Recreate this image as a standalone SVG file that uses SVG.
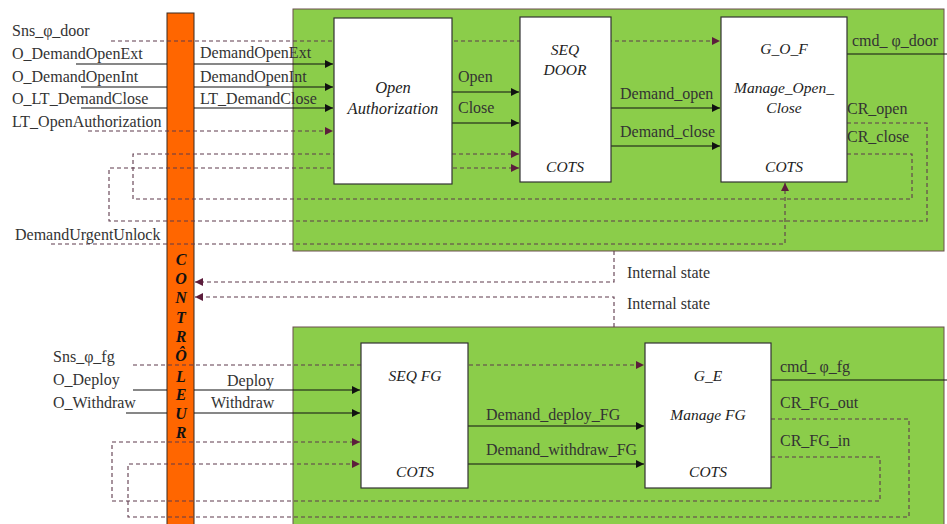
<svg xmlns="http://www.w3.org/2000/svg" width="947" height="524" viewBox="0 0 947 524">
  <defs>
    <marker id="arr" viewBox="0 0 10 10" refX="10" refY="5" markerWidth="8" markerHeight="8" markerUnits="userSpaceOnUse" orient="auto">
      <path d="M0,0 L10,5 L0,10 z" fill="#111"/>
    </marker>
    <marker id="arrd" viewBox="0 0 10 10" refX="10" refY="5" markerWidth="8" markerHeight="8" markerUnits="userSpaceOnUse" orient="auto">
      <path d="M0,0 L10,5 L0,10 z" fill="#5c1d3c"/>
    </marker>
    <style>
      .zone { fill: #8bcd4a; stroke: #6b4e4e; stroke-width: 1; }
      .block { fill: #ffffff; stroke: #333; stroke-width: 1.2; }
      .ctrl { fill: #ff6600; stroke: #3a2a20; stroke-width: 1; }
      .lbl { font-family: "Liberation Serif", "Times New Roman", serif; font-size: 16px; fill: #333; }
      .it { font-family: "Liberation Serif", "Times New Roman", serif; font-size: 15.5px; font-style: italic; fill: #222; text-anchor: middle; }
      .ct { font-family: "Liberation Serif", "Times New Roman", serif; font-size: 16px; font-style: italic; font-weight: bold; fill: #111; text-anchor: middle; }
      .sol { fill: none; stroke: #111; stroke-width: 1.2; }
      .dash { fill: none; stroke: #5e3a4c; stroke-width: 1.1; stroke-dasharray: 4 3; }
    </style>
  </defs>

  <rect width="947" height="524" fill="#ffffff"/>

  <!-- functional zones -->
  <rect id="zone-door" class="zone" x="293" y="9" width="651" height="242"/>
  <rect id="zone-fg" class="zone" x="293" y="327" width="651" height="205"/>

  <!-- controller bar -->
  <g id="controleur">
    <rect class="ctrl" x="167" y="13" width="27" height="520"/>
    <text class="ct" x="181" y="265">C</text>
    <text class="ct" x="181" y="284">O</text>
    <text class="ct" x="181" y="303">N</text>
    <text class="ct" x="181" y="323">T</text>
    <text class="ct" x="181" y="342">R</text>
    <text class="ct" x="181" y="361">Ô</text>
    <text class="ct" x="181" y="382">L</text>
    <text class="ct" x="181" y="400">E</text>
    <text class="ct" x="181" y="419">U</text>
    <text class="ct" x="181" y="438">R</text>
  </g>

  <!-- connectors -->
  <g id="connectors">
    <!-- door inputs -->
    <path class="dash" d="M111,41 H720" marker-end="url(#arrd)"/>
    <path class="sol" d="M76,64 H167"/>
    <path class="sol" d="M194,64 H333" marker-end="url(#arr)"/>
    <path class="sol" d="M81,87 H167"/>
    <path class="sol" d="M194,87 H333" marker-end="url(#arr)"/>
    <path class="sol" d="M81,108 H167"/>
    <path class="sol" d="M194,108 H333" marker-end="url(#arr)"/>
    <path class="dash" d="M88,131 H333" marker-end="url(#arrd)"/>
    <!-- door internals -->
    <path class="sol" d="M452,92 H519" marker-end="url(#arr)"/>
    <path class="sol" d="M452,123 H519" marker-end="url(#arr)"/>
    <path class="sol" d="M611,108 H720" marker-end="url(#arr)"/>
    <path class="sol" d="M611,146 H720" marker-end="url(#arr)"/>
    <path class="sol" d="M847,54 H947"/>
    <!-- door feedback loops -->
    <path class="dash" d="M847,154 H912 V199 H133 V154 H519" marker-end="url(#arrd)"/>
    <path class="dash" d="M847,123 H927 V221 H109 V168 H519" marker-end="url(#arrd)"/>
    <path class="dash" d="M51,244 H785 V183" marker-end="url(#arrd)"/>
    <!-- internal states back to controller -->
    <path class="dash" d="M614,251 V282 H195" marker-end="url(#arrd)"/>
    <path class="dash" d="M614,327 V297 H195" marker-end="url(#arrd)"/>
    <!-- flap inputs -->
    <path class="dash" d="M133,365 H644" marker-end="url(#arrd)"/>
    <path class="sol" d="M133,390 H167"/>
    <path class="sol" d="M194,390 H360" marker-end="url(#arr)"/>
    <path class="sol" d="M126,413 H167"/>
    <path class="sol" d="M194,413 H360" marker-end="url(#arr)"/>
    <path class="sol" d="M468,426 H644" marker-end="url(#arr)"/>
    <path class="sol" d="M468,464 H644" marker-end="url(#arr)"/>
    <path class="sol" d="M771,380 H947"/>
    <!-- flap feedback loops -->
    <path class="dash" d="M771,457 H880 V501 H112 V442 H360" marker-end="url(#arrd)"/>
    <path class="dash" d="M771,419 H909 V517 H128 V464 H360" marker-end="url(#arrd)"/>
  </g>

  <!-- blocks -->
  <g id="open-authorization">
    <rect class="block" x="334" y="18" width="118" height="166"/>
    <text class="it" x="393" y="93" style="font-size:16.5px">Open</text>
    <text class="it" x="393" y="114" style="font-size:16.5px">Authorization</text>
  </g>
  <g id="seq-door">
    <rect class="block" x="520" y="17" width="91" height="165"/>
    <text class="it" x="565" y="55">SEQ</text>
    <text class="it" x="565" y="75">DOOR</text>
    <text class="it" x="565" y="172">COTS</text>
  </g>
  <g id="g-o-f">
    <rect class="block" x="721" y="17" width="126" height="165"/>
    <text class="it" x="784" y="54">G_O_F</text>
    <text class="it" x="784" y="93">Manage_Open_</text>
    <text class="it" x="784" y="113">Close</text>
    <text class="it" x="784" y="172">COTS</text>
  </g>
  <g id="seq-fg">
    <rect class="block" x="361" y="343" width="107" height="145"/>
    <text class="it" x="415" y="381">SEQ FG</text>
    <text class="it" x="415" y="477">COTS</text>
  </g>
  <g id="g-e">
    <rect class="block" x="645" y="343" width="126" height="145"/>
    <text class="it" x="708" y="381">G_E</text>
    <text class="it" x="708" y="420">Manage FG</text>
    <text class="it" x="708" y="477">COTS</text>
  </g>

  <!-- signal labels -->
  <g id="labels">
    <text class="lbl" x="12" y="36">Sns_φ_door</text>
    <text class="lbl" x="12" y="59">O_DemandOpenExt</text>
    <text class="lbl" x="12" y="82">O_DemandOpenInt</text>
    <text class="lbl" x="12" y="104">O_LT_DemandClose</text>
    <text class="lbl" x="12" y="127">LT_OpenAuthorization</text>
    <text class="lbl" x="15" y="240">DemandUrgentUnlock</text>
    <text class="lbl" x="200" y="58">DemandOpenExt</text>
    <text class="lbl" x="200" y="82">DemandOpenInt</text>
    <text class="lbl" x="200" y="104">LT_DemandClose</text>
    <text class="lbl" x="458" y="82">Open</text>
    <text class="lbl" x="458" y="113">Close</text>
    <text class="lbl" x="620" y="99">Demand_open</text>
    <text class="lbl" x="620" y="137">Demand_close</text>
    <text class="lbl" x="852" y="46">cmd_ φ_door</text>
    <text class="lbl" x="847" y="114">CR_open</text>
    <text class="lbl" x="847" y="142">CR_close</text>
    <text class="lbl" x="627" y="278">Internal state</text>
    <text class="lbl" x="627" y="309">Internal state</text>
    <text class="lbl" x="53" y="362">Sns_φ_fg</text>
    <text class="lbl" x="53" y="385">O_Deploy</text>
    <text class="lbl" x="53" y="408">O_Withdraw</text>
    <text class="lbl" x="227" y="386">Deploy</text>
    <text class="lbl" x="211" y="408">Withdraw</text>
    <text class="lbl" x="486" y="420">Demand_deploy_FG</text>
    <text class="lbl" x="486" y="455">Demand_withdraw_FG</text>
    <text class="lbl" x="780" y="372">cmd_ φ_fg</text>
    <text class="lbl" x="780" y="408">CR_FG_out</text>
    <text class="lbl" x="780" y="446">CR_FG_in</text>
  </g>
</svg>
